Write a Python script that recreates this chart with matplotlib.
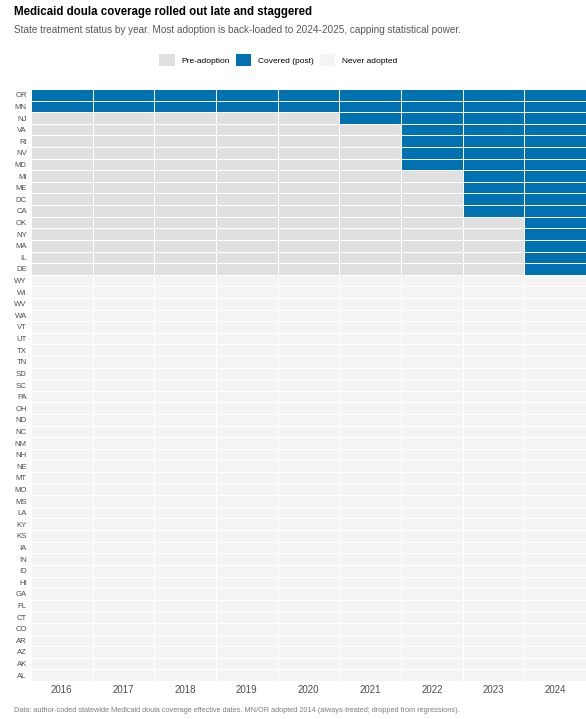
import numpy as np
import matplotlib
matplotlib.use("Agg")
import matplotlib.pyplot as plt
from matplotlib.colors import ListedColormap
from matplotlib.patches import Patch

plt.rcParams['font.family'] = ['Liberation Sans', 'DejaVu Sans']

# states listed top to bottom, with adoption year (None = never adopted)
states = ["OR", "MN", "NJ", "VA", "RI", "NV", "MD", "MI", "ME", "DC", "CA",
          "OK", "NY", "MA", "IL", "DE",
          "WY", "WI", "WV", "WA", "VT", "UT", "TX", "TN", "SD", "SC", "PA",
          "OH", "ND", "NC", "NM", "NH", "NE", "MT", "MO", "MS", "LA", "KY",
          "KS", "IA", "IN", "ID", "HI", "GA", "FL", "CT", "CO", "AR", "AZ",
          "AK", "AL"]
adopt_year = [2014, 2014, 2021, 2022, 2022, 2022, 2022, 2023, 2023, 2023, 2023,
              2024, 2024, 2024, 2024, 2024] + [None] * 35
years = [2016, 2017, 2018, 2019, 2020, 2021, 2022, 2023, 2024]

status_labels = ["Never adopted", "Pre-adoption", "Covered (post)"]
status_colors = ["#F4F4F4", "#E0E0E0", "#0072B2"]

# 0 never, 1 pre, 2 covered
grid = np.zeros((len(states), len(years)))
for i, ay in enumerate(adopt_year):
    for j, yr in enumerate(years):
        if ay is None:
            grid[i, j] = 0
        elif yr >= ay:
            grid[i, j] = 2
        else:
            grid[i, j] = 1

fig = plt.figure(figsize=(5.86, 7.19), dpi=100)
ax = fig.add_axes([31 / 586, 1 - 681 / 719, 1 - 31 / 586, (681 - 89) / 719])

cmap = ListedColormap(status_colors)
ax.pcolormesh(np.arange(len(years) + 1), np.arange(len(states) + 1), grid,
              cmap=cmap, vmin=-0.5, vmax=2.5, edgecolors="white", linewidth=0.6)
ax.set_xlim(0, len(years))
ax.set_ylim(len(states), 0)
ax.set_xticks(np.arange(len(years)) + 0.5)
ax.set_xticklabels([str(y) for y in years], fontsize=7, color="#4D4D4D")
ax.set_yticks(np.arange(len(states)) + 0.5)
ax.set_yticklabels(states, fontsize=5.6, color="#4D4D4D")
ax.tick_params(length=0, pad=3)
for s in ax.spines.values():
    s.set_visible(False)

fig.text(14 / 586, 1 - 12 / 719, "Medicaid doula coverage rolled out late and staggered",
         fontsize=8.3, fontweight="bold", va="center", ha="left")
fig.text(14 / 586, 1 - 30 / 719,
         "State treatment status by year. Most adoption is back-loaded to 2024-2025, capping statistical power.",
         fontsize=7.2, color="#595959", va="center", ha="left")

handles = [Patch(facecolor=status_colors[i], edgecolor="none", label=status_labels[i]) for i in (1, 2, 0)]
fig.legend(handles=handles, loc="center", bbox_to_anchor=(278 / 586, 1 - 60 / 719), ncol=3,
           frameon=False, fontsize=6, handlelength=1.9, handleheight=2.0,
           columnspacing=0.7, handletextpad=0.8)

fig.text(14 / 586, 1 - 711 / 719,
         "Data: author-coded statewide Medicaid doula coverage effective dates. MN/OR adopted 2014 (always-treated; dropped from regressions).",
         fontsize=5.3, color="#7F7F7F", va="center", ha="left")

fig.savefig("out.png", dpi=100)
